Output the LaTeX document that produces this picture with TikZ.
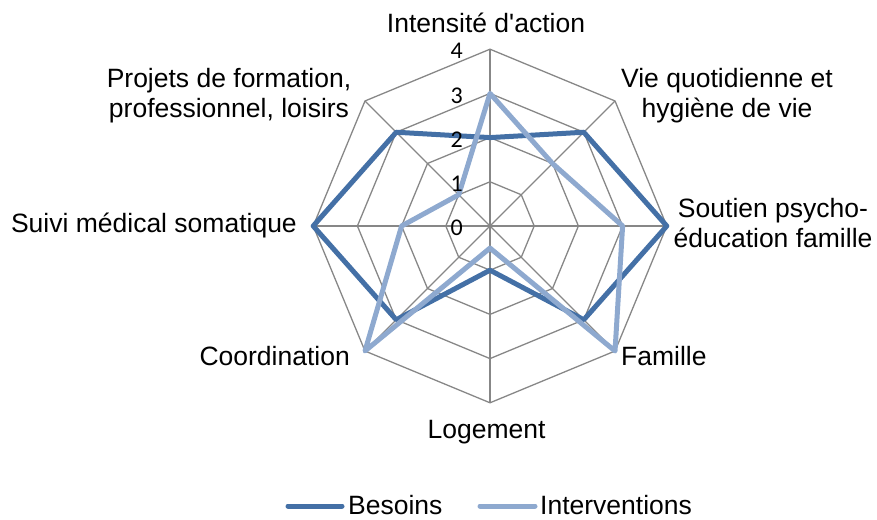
\documentclass[tikz,border=0pt]{standalone}
\usepackage{fontspec}
\setmainfont{Liberation Sans}
\newfontfamily\axisfont{Carlito}
\definecolor{besoins}{HTML}{4470A6}
\definecolor{interv}{HTML}{8EA9CF}
\definecolor{grille}{HTML}{878787}
\newcommand{\unitr}{44.2}

\tikzset{
  gridline/.style={grille, line width=1.3},
  besoinsline/.style={besoins, line width=5, line join=round},
  intervline/.style={interv, line width=5, line join=round},
  axlabel/.style={font=\fontsize{26.5}{30}\selectfont, inner sep=0, align=center},
  tick/.style={font=\axisfont\fontsize{24}{24}\selectfont, inner sep=0, anchor=east}
}

\begin{document}
\begin{tikzpicture}[x=1pt,y=1pt]
\useasboundingbox (0,0) rectangle (877,519);

\begin{scope}[shift={(490,293)}]
% grid
\foreach \l in {1,...,4}{
  \draw [gridline] (90:\l*\unitr) \foreach \k in {1,...,7}{ -- (90-45*\k:\l*\unitr)} -- cycle;
}
\foreach \k in {0,...,7}
  \draw [gridline] (0,0) -- (90-45*\k:4*\unitr);

% data
\foreach \v [count=\k from 0] in {2,3,4,3,1,3,4,3}
  \coordinate (b\k) at (90-45*\k:\v*\unitr);
\foreach \v [count=\k from 0] in {3,2,3,4,0.5,4,2,1}
  \coordinate (i\k) at (90-45*\k:\v*\unitr);
\draw [besoinsline] (b0) -- (b1) -- (b2) -- (b3) -- (b4) -- (b5) -- (b6) -- (b7) -- cycle;
\draw [intervline] (i0) -- (i1) -- (i2) -- (i3) -- (i4) -- (i5) -- (i6) -- (i7) -- cycle;

% scale
\foreach \l in {0,...,4}
  \node [tick] (t\l) at (-27,\l*\unitr-2) {\l};
\end{scope}

% axis labels
\node [axlabel, anchor=base] (lIntensite) at (486,486) {Intensité d\textquotesingle action};
\node [axlabel, anchor=base] (lVie) at (727,401) {Vie quotidienne et\\hygiène de vie};
\node [axlabel, anchor=base] (lSoutien) at (773,271) {Soutien psycho-\\éducation famille};
\node [axlabel, anchor=base west] (lFamille) at (621,153) {Famille};
\node [axlabel, anchor=base] (lLogement) at (486.5,80) {Logement};
\node [axlabel, anchor=base east] (lCoord) at (350,153) {Coordination};
\node [axlabel, anchor=base east] (lSuivi) at (297,286) {Suivi médical somatique};
\node [axlabel, anchor=base] (lProjets) at (229,401) {Projets de formation,\\professionnel, loisirs};

% legend
\coordinate (lb1) at (288,13);
\coordinate (lb2) at (342,13);
\coordinate (li1) at (480,13);
\coordinate (li2) at (535,13);
\draw [besoinsline, line cap=round] (lb1) -- (lb2);
\draw [intervline, line cap=round] (li1) -- (li2);
\node [axlabel, anchor=base west] (legB) at (348,5) {Besoins};
\node [axlabel, anchor=base west] (legI) at (540,5) {Interventions};
\end{tikzpicture}
\end{document}
